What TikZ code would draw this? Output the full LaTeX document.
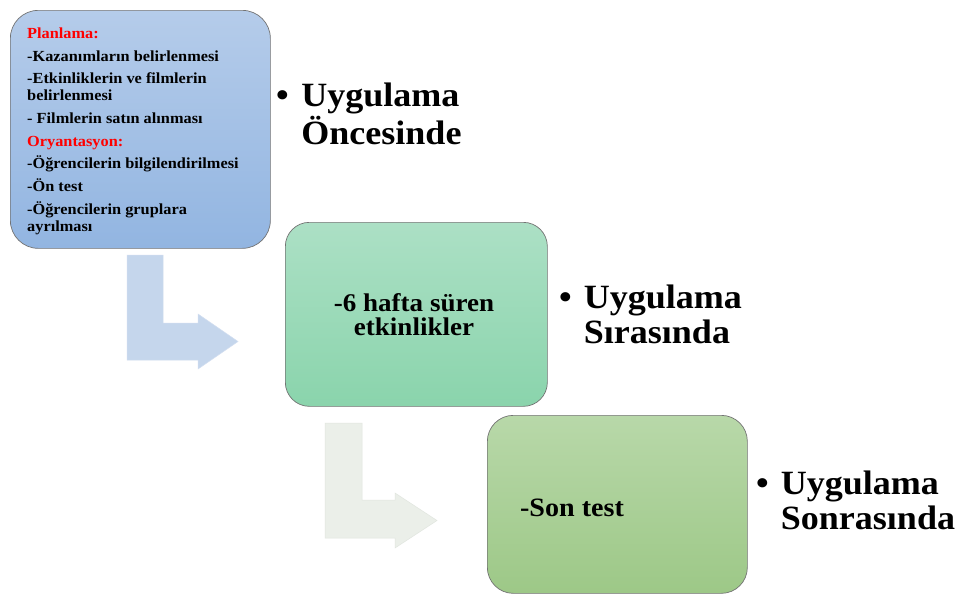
\documentclass[tikz,border=0pt]{standalone}
\usepackage{fontspec}
\setmainfont{Liberation Serif}[FakeStretch=1.06]
\begin{document}
\begin{tikzpicture}[x=1pt,y=-1pt,
  stagebox/.style={draw=black!55, line width=0.7pt, rounded corners=26pt, inner sep=0pt, anchor=north west},
  bendarrow/.style={line width=0.5pt},
  smalltxt/.style={font=\fontsize{15.4}{17}\selectfont\bfseries, align=left, inner sep=0pt, anchor=north west},
  midtxt/.style={font=\fontsize{25.5}{24}\selectfont\bfseries, align=center, inner sep=0pt},
  bigtxt/.style={font=\fontsize{34}{35}\selectfont\bfseries, inner sep=0pt, anchor=base west}]
\definecolor{redtxt}{HTML}{FF0000}
\useasboundingbox[fill=white] (0,0) rectangle (958,595);
% arrows
\fill[fill={rgb,255:red,197;green,214;blue,236}, draw={rgb,255:red,210;green,222;blue,240}, bendarrow]
  (127,255) -- (163,255) -- (163,323) -- (198,323) -- (198,314) -- (238,341.5) -- (198,369) -- (198,360) -- (127,360) -- cycle;
\fill[fill={rgb,255:red,235;green,239;blue,233}, draw={rgb,255:red,225;green,230;blue,223}, bendarrow]
  (325,423) -- (362,423) -- (362,500) -- (395,500) -- (395,493) -- (437,520.5) -- (395,548) -- (395,538) -- (325,538) -- cycle;
% boxes
\node[stagebox, rounded corners=28pt, top color={rgb,255:red,181;green,204;blue,234}, bottom color={rgb,255:red,146;green,181;blue,225}, minimum width=260pt, minimum height=238pt] (b1) at (10,10) {};
\node[stagebox, rounded corners=24pt, top color={rgb,255:red,172;green,224;blue,197}, bottom color={rgb,255:red,138;green,212;blue,172}, minimum width=262pt, minimum height=184pt] (b2) at (285,222) {};
\node[stagebox, top color={rgb,255:red,184;green,216;blue,169}, bottom color={rgb,255:red,157;green,200;blue,135}, minimum width=260pt, minimum height=178pt] (b3) at (487,415) {};
% box texts
\node[smalltxt] (t1) at (27,27.5) {\textcolor{redtxt}{Planlama:}\\[5.7pt]
-Kazanımların belirlenmesi\\[5.7pt]
-Etkinliklerin ve filmlerin\\belirlenmesi\\[5.7pt]
- Filmlerin satın alınması\\[5.7pt]
\textcolor{redtxt}{Oryantasyon:}\\[5.7pt]
-Öğrencilerin bilgilendirilmesi\\[5.7pt]
-Ön test\\[5.7pt]
-Öğrencilerin gruplara\\ayrılması};
\node[midtxt] (t2) at (414,315) {-6 hafta süren\\etkinlikler};
\node[midtxt, font=\fontsize{26.5}{24}\selectfont\bfseries, anchor=base] (t3) at (572,516) {-Son test};
% bullets
\node[bigtxt] (u1) at (276,106) {\begin{tabular}[t]{@{}l@{\hspace{12.5pt}}l@{}}•&Uygulama\\&Öncesinde\end{tabular}};
\node[bigtxt] (u2) at (559,308) {\begin{tabular}[t]{@{}l@{\hspace{12pt}}l@{}}•&Uygulama\\&Sırasında\end{tabular}};
\node[bigtxt] (u3) at (756,494) {\begin{tabular}[t]{@{}l@{\hspace{12pt}}l@{}}•&Uygulama\\&Sonrasında\end{tabular}};
\end{tikzpicture}
\end{document}
